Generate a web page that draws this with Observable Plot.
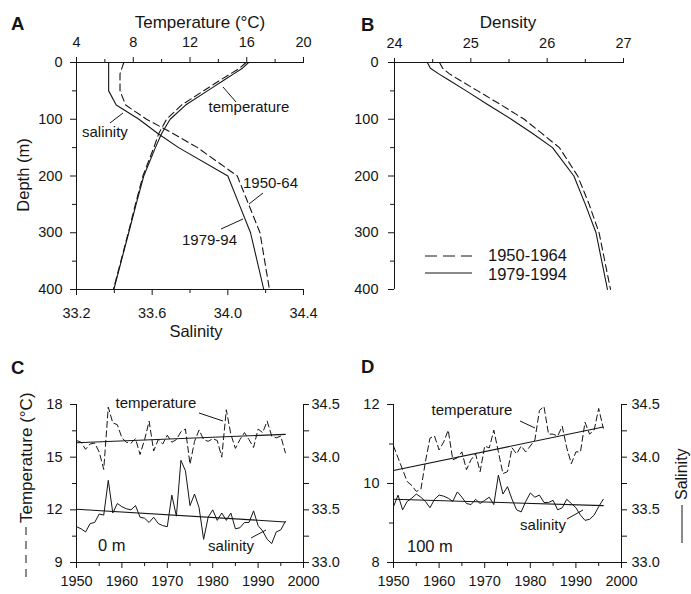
<!DOCTYPE html>
<html><head><meta charset="utf-8">
<script src="https://cdn.jsdelivr.net/npm/d3@7"></script>
<script src="https://cdn.jsdelivr.net/npm/@observablehq/plot@0.6"></script>
<style>
html,body{margin:0;padding:0;background:#fff;}
#wrap{position:relative;width:691px;height:594px;overflow:hidden;background:#fff;}
</style></head><body><div id="wrap"></div>
<script>
// ---------- Panel A / B : mean profiles ----------
const depthLevels = [0, 10, 20, 30, 50, 75, 100, 125, 150, 200, 250, 300, 400];
const temp1950 = [15.95, 15.5, 14.85, 14.2, 12.95, 11.4, 10.35, 9.8, 9.45, 8.68, 8.15, 7.65, 6.6];
const temp1979 = [16.13, 15.7, 15.08, 14.46, 13.23, 11.69, 10.6, 10.0, 9.56, 8.74, 8.2, 7.68, 6.63];
const sal1950 = [33.45, 33.44, 33.43, 33.43, 33.43, 33.46, 33.57, 33.71, 33.84, 34.05, 34.11, 34.17, 34.22];
const sal1979 = [33.37, 33.37, 33.37, 33.37, 33.37, 33.41, 33.53, 33.63, 33.74, 34.0, 34.06, 34.12, 34.19];
const dens1950 = [24.59, 24.63, 24.72, 24.84, 25.09, 25.40, 25.70, 25.93, 26.16, 26.40, 26.55, 26.68, 26.83];
const dens1979 = [24.43, 24.47, 24.58, 24.70, 24.94, 25.23, 25.53, 25.81, 26.07, 26.35, 26.50, 26.64, 26.79];

// ---------- Panel C / D : time series ----------
const years = [1950,1951,1952,1953,1954,1955,1956,1957,1958,1959,
               1960,1961,1962,1963,1964,1965,1966,1967,1968,1969,
               1970,1971,1972,1973,1974,1975,1976,1977,1978,1979,
               1980,1981,1982,1983,1984,1985,1986,1987,1988,1989,
               1990,1991,1992,1993,1994,1995,1996];
const temp0m = [15.95,15.85,15.45,15.75,15.8,15.3,14.3,17.85,16.95,16.85,
                16.1,15.85,15.8,16.05,15.15,16.0,17.05,15.35,16.0,15.75,
                16.25,15.85,16.0,16.45,16.6,14.6,15.9,16.55,16.0,15.9,
                16.05,15.95,15.0,17.7,16.3,15.5,16.0,16.4,16.0,15.55,
                16.6,16.4,17.05,16.2,16.1,16.2,15.25];
const sal0m = [33.34,33.32,33.29,33.37,33.38,33.46,33.45,33.78,33.47,33.56,
               33.53,33.51,33.50,33.54,33.43,33.42,33.38,33.43,33.37,33.35,
               33.34,33.64,33.44,33.97,33.87,33.54,33.65,33.52,33.22,33.43,
               33.50,33.40,33.47,33.40,33.47,33.32,33.33,33.38,33.38,33.49,
               33.35,33.30,33.22,33.18,33.29,33.31,33.39];
const temp100m = [10.95,10.65,10.35,10.05,9.95,9.8,9.85,10.55,11.15,11.2,
                  10.85,11.05,11.35,10.6,10.65,10.8,10.35,10.6,10.75,10.3,
                  10.95,10.9,11.35,10.8,10.25,10.3,10.9,10.75,10.95,10.8,
                  10.95,11.1,11.85,11.95,11.25,11.25,11.2,11.45,10.9,10.5,
                  10.8,10.8,11.55,11.25,11.35,11.9,11.4];
const sal100m = [33.53,33.64,33.50,33.58,33.61,33.65,33.62,33.58,33.52,33.60,
                 33.64,33.63,33.61,33.58,33.67,33.62,33.56,33.55,33.60,33.56,
                 33.59,33.62,33.55,33.83,33.65,33.72,33.60,33.50,33.48,33.58,
                 33.66,33.62,33.64,33.57,33.57,33.59,33.50,33.52,33.60,33.56,
                 33.52,33.45,33.40,33.41,33.45,33.53,33.60];
const trendYears = [1950, 1996];
const trendTemp0m = [15.82, 16.3];
const trendSal0m = [33.505, 33.385];
const trendTemp100m = [10.33, 11.43];
const trendSal100m = [33.6, 33.54];

// ---------- tick values ----------
const depthTicks = [0, 100, 200, 300, 400];
const depthMinor = [50, 150, 250, 350];
const tempTicksA = [4, 8, 12, 16, 20];
const tempMinorA = [6, 10, 14, 18];
const salTicksA = [33.2, 33.6, 34.0, 34.4];
const salMinorA = [33.4, 33.8, 34.2];
const densTicks = [24, 25, 26, 27];
const densMinor = [24.5, 25.5, 26.5];
const yearTicks = [1950, 1960, 1970, 1980, 1990, 2000];
const yearMinor = [1955, 1965, 1975, 1985, 1995];
const tempTicksC = [9, 12, 15, 18];
const tempMinorC = [10.5, 13.5, 16.5];
const tempTicksD = [8, 10, 12];
const tempMinorD = [9, 11];
const salTicksCD = [33.0, 33.5, 34.0, 34.5];
const salMinorCD = [33.25, 33.75, 34.25];

// ---------- drawing ----------
const FONT = "'Liberation Sans', Arial, Helvetica, sans-serif";
const ink = "#151515";
const wrap = document.getElementById("wrap");
const fmt1 = d3.format(".1f");
const fmtInt = d3.format("d");
const blank = () => "";
const baseStyle = {background: "transparent", fontFamily: FONT, fontSize: "14.5px", color: ink, overflow: "visible"};

function place(svg, left, top) {
  svg.style.position = "absolute";
  svg.style.left = left + "px";
  svg.style.top = top + "px";
  wrap.appendChild(svg);
}
function mk(o) { return Plot.plot({...o, style: baseStyle}); }

const geoA = {width: 340, height: 345, marginTop: 62, marginRight: 37, marginBottom: 56, marginLeft: 76};
const geoB = {width: 351, height: 345, marginTop: 62, marginRight: 68, marginBottom: 56, marginLeft: 54};
const geoC = {width: 345, height: 249, marginTop: 59, marginRight: 42, marginBottom: 32, marginLeft: 76};
const geoD = {width: 346, height: 249, marginTop: 59, marginRight: 70, marginBottom: 32, marginLeft: 48};
const depthY = {domain: [0, 400], reverse: true, axis: null};

// Panel A - temperature (top axis)
place(mk({...geoA, x: {domain: [4, 20], axis: null}, y: depthY, marks: [
  Plot.axisX({anchor: "top", ticks: tempTicksA, tickFormat: fmtInt, tickSize: 6, tickPadding: 10, label: null}),
  Plot.axisX({anchor: "top", ticks: tempMinorA, tickSize: 4, tickFormat: blank, label: null}),
  Plot.axisY({anchor: "left", ticks: depthTicks, tickFormat: fmtInt, tickSize: 6, tickPadding: 8, label: null}),
  Plot.axisY({anchor: "left", ticks: depthMinor, tickSize: 4, tickFormat: blank, label: null}),
  Plot.ruleY([0], {stroke: ink}),
  Plot.ruleX([4], {stroke: ink}),
  Plot.line(temp1950, {x: d => d, y: (d, i) => depthLevels[i], stroke: ink, strokeWidth: 1.1, strokeDasharray: "7,4"}),
  Plot.line(temp1979, {x: d => d, y: (d, i) => depthLevels[i], stroke: ink, strokeWidth: 1.1})
]}), 0, 0);

// Panel A - salinity (bottom axis)
place(mk({...geoA, x: {domain: [33.2, 34.4], axis: null}, y: depthY, marks: [
  Plot.axisX({anchor: "bottom", ticks: salTicksA, tickFormat: fmt1, tickSize: 6, tickPadding: 12, label: null}),
  Plot.axisX({anchor: "bottom", ticks: salMinorA, tickSize: 4, tickFormat: blank, label: null}),
  Plot.ruleY([400], {stroke: ink}),
  Plot.line(sal1950, {x: d => d, y: (d, i) => depthLevels[i], stroke: ink, strokeWidth: 1.1, strokeDasharray: "7,4"}),
  Plot.line(sal1979, {x: d => d, y: (d, i) => depthLevels[i], stroke: ink, strokeWidth: 1.1})
]}), 0, 0);

// Panel B - density
place(mk({...geoB, x: {domain: [24, 27], axis: null}, y: depthY, marks: [
  Plot.axisX({anchor: "top", ticks: densTicks, tickFormat: fmtInt, tickSize: 5, tickPadding: 10, label: null}),
  Plot.axisX({anchor: "top", ticks: densMinor, tickSize: 4, tickFormat: blank, label: null}),
  Plot.axisY({anchor: "left", ticks: depthTicks, tickFormat: fmtInt, tickSize: 6, tickPadding: 10, label: null}),
  Plot.axisY({anchor: "left", ticks: depthMinor, tickSize: 4, tickFormat: blank, label: null}),
  Plot.ruleY([0], {stroke: ink}),
  Plot.ruleX([24], {stroke: ink}),
  Plot.line(dens1950, {x: d => d, y: (d, i) => depthLevels[i], stroke: ink, strokeWidth: 1.1, strokeDasharray: "7,4"}),
  Plot.line(dens1979, {x: d => d, y: (d, i) => depthLevels[i], stroke: ink, strokeWidth: 1.1})
]}), 340, 0);

function seriesPanel(geo, left, tDomain, tTicks, tMinor, tSeries, tTrend, sSeries, sTrend, rightPad) {
  place(mk({...geo, x: {domain: [1950, 2000], axis: null}, y: {domain: tDomain, axis: null}, marks: [
    Plot.axisX({anchor: "bottom", ticks: yearTicks, tickFormat: fmtInt, tickSize: 6, tickPadding: 7, label: null}),
    Plot.axisX({anchor: "bottom", ticks: yearMinor, tickSize: 4, tickFormat: blank, label: null}),
    Plot.axisY({anchor: "left", ticks: tTicks, tickFormat: fmtInt, tickSize: 6, tickPadding: 8, label: null}),
    Plot.axisY({anchor: "left", ticks: tMinor, tickSize: 4, tickFormat: blank, label: null}),
    Plot.ruleX([1950], {stroke: ink}),
    Plot.ruleY([tDomain[0]], {stroke: ink}),
    Plot.line(tSeries, {x: years, y: d => d, stroke: ink, strokeWidth: 1, strokeDasharray: "6,3.5"}),
    Plot.line(tTrend, {x: trendYears, y: d => d, stroke: ink, strokeWidth: 1.1})
  ]}), left, 345);
  place(mk({...geo, x: {domain: [1950, 2000], axis: null}, y: {domain: [33, 34.5], axis: null}, marks: [
    Plot.axisY({anchor: "right", ticks: salTicksCD, tickFormat: fmt1, tickSize: 5, tickPadding: rightPad, label: null}),
    Plot.axisY({anchor: "right", ticks: salMinorCD, tickSize: 5, tickFormat: blank, label: null}),
    Plot.ruleX([2000], {stroke: ink}),
    Plot.line(sSeries, {x: years, y: d => d, stroke: ink, strokeWidth: 1}),
    Plot.line(sTrend, {x: trendYears, y: d => d, stroke: ink, strokeWidth: 1.1})
  ]}), left, 345);
}
seriesPanel(geoC, 0, [9, 18], tempTicksC, tempMinorC, temp0m, trendTemp0m, sal0m, trendSal0m, 3);
seriesPanel(geoD, 345, [8, 12], tempTicksD, tempMinorD, temp100m, trendTemp100m, sal100m, trendSal100m, 5);

// ---------- labels, annotations, legend ----------
const ov = d3.create("svg").attr("width", 691).attr("height", 594)
  .style("position", "absolute").style("left", "0px").style("top", "0px")
  .style("font-family", FONT).style("fill", ink);
function txt(x, y, s, size, anchor = "start", weight = "normal", rot = 0) {
  const t = ov.append("text").attr("font-size", size).attr("text-anchor", anchor)
    .attr("font-weight", weight).attr("fill", ink).text(s);
  if (rot) t.attr("transform", `translate(${x},${y}) rotate(${rot})`);
  else t.attr("x", x).attr("y", y);
}
function seg(x1, y1, x2, y2, dash) {
  const l = ov.append("line").attr("x1", x1).attr("y1", y1).attr("x2", x2).attr("y2", y2)
    .attr("stroke", ink).attr("stroke-width", 1);
  if (dash) l.attr("stroke-dasharray", dash);
}
// panel letters
txt(11, 30, "A", 18.5, "start", "bold");
txt(361, 31, "B", 18.5, "start", "bold");
txt(11, 374, "C", 18.5, "start", "bold");
txt(361, 373, "D", 18.5, "start", "bold");
// axis titles
txt(200, 28, "Temperature (°C)", 17, "middle");
txt(508, 28, "Density", 17, "middle");
txt(29, 175, "Depth (m)", 16.5, "middle", "normal", -90);
txt(196, 337, "Salinity", 16.5, "middle");
txt(32, 523, "Temperature (°C)", 17, "start", "normal", -90);
seg(26, 527, 26, 580, "8,6");
txt(687, 500, "Salinity", 16, "start", "normal", -90);
seg(682, 505, 682, 543);
// panel A annotations
txt(249, 112, "temperature", 15, "middle");
seg(223, 87, 236, 102);
txt(82, 137, "salinity", 15, "start");
seg(110, 123, 123, 113);
txt(243, 188, "1950-64", 15, "start");
seg(263, 193, 249, 204);
txt(182, 245, "1979-94", 15, "start");
seg(221, 229, 243, 219);
// panel B legend
seg(425, 256, 472, 256, "12,6");
txt(488, 261, "1950-1964", 16.5, "start");
seg(425, 273, 472, 273);
txt(488, 280, "1979-1994", 16.5, "start");
// panel C annotations
txt(156, 408, "temperature", 15, "middle");
seg(199, 413, 223, 421);
txt(98, 551, "0 m", 16.5, "start");
txt(231, 551, "salinity", 15, "middle");
seg(251, 538, 266, 530);
// panel D annotations
txt(472, 415, "temperature", 15, "middle");
seg(520, 421, 535, 428);
txt(543, 530, "salinity", 15, "middle");
seg(567, 519, 583, 510);
txt(407, 552, "100 m", 16.5, "start");
wrap.appendChild(ov.node());
</script>
</body></html>
